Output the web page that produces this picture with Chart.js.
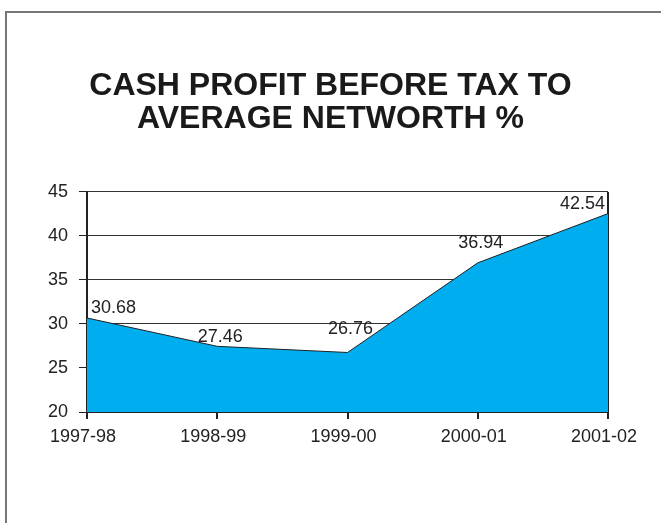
<!DOCTYPE html>
<html>
<head>
<meta charset="utf-8">
<script src="https://cdn.jsdelivr.net/npm/chart.js@4/dist/chart.umd.min.js"></script>
<style>
  body { margin: 0; background: #fff; }
  #frame { position: absolute; left: 5px; top: 11px; width: 700px; height: 560px;
           border-left: 2px solid #777; border-top: 2px solid #777; }
  #wrap { position: absolute; left: 0; top: 0; width: 661px; height: 523px; }
</style>
</head>
<body>
<div id="frame"></div>
<div id="wrap"><canvas id="chart"></canvas></div>
<script>
// --- datos ---
const years = ['1997-98', '1998-99', '1999-00', '2000-01', '2001-02'];
const values = [30.68, 27.46, 26.76, 36.94, 42.54];
const titleLines = ['CASH PROFIT BEFORE TAX TO', 'AVERAGE NETWORTH %'];

const FONT = 'Liberation Sans, Arial, sans-serif';
// cuanto sube cada etiqueta sobre su punto (px)
const labelLift = [1, 0, 14, 11, 1];

// etiquetas sobre cada punto, dentro del area
const valueLabels = {
    id: 'valueLabels',
    afterDatasetsDraw(chart) {
        const ctx = chart.ctx;
        const area = chart.chartArea;
        const meta = chart.getDatasetMeta(0);
        ctx.save();
        ctx.font = '18px ' + FONT;
        ctx.fillStyle = '#222';
        ctx.textBaseline = 'bottom';
        meta.data.forEach((pt, i) => {
            const txt = values[i].toFixed(2);
            const w = ctx.measureText(txt).width;
            let x = pt.x - w / 2 + 3;
            x = Math.max(area.left + 4, Math.min(x, area.right - w - 3));
            ctx.fillText(txt, x, pt.y - labelLift[i]);
        });
        ctx.restore();
    }
};

new Chart(document.getElementById('chart'), {
    type: 'line',
    data: {
        labels: years,
        datasets: [{
            data: values,
            borderColor: '#222',
            borderWidth: 1,
            backgroundColor: '#00AEEF',
            fill: 'origin',
            tension: 0,
            pointRadius: 0
        }]
    },
    options: {
        responsive: true,
        maintainAspectRatio: false,
        animation: false,
        layout: { padding: { left: 0, right: 0, top: 0, bottom: 71 } },
        plugins: {
            legend: { display: false },
            tooltip: { enabled: false },
            title: {
                display: true,
                text: titleLines,
                color: '#1a1a1a',
                font: { family: FONT, size: 32, weight: 'bold', lineHeight: 1.03 },
                padding: { top: 70, bottom: 56 }
            }
        },
        scales: {
            x: {
                offset: false,
                border: { display: true, color: '#222', width: 2 },
                grid: {
                    drawOnChartArea: true,
                    color: c => c.index === years.length - 1 ? '#222' : 'rgba(0,0,0,0)',
                    lineWidth: 2,
                    tickColor: '#222',
                    tickLength: 7
                },
                ticks: { color: '#222', font: { family: FONT, size: 18 }, padding: 7, maxRotation: 0, labelOffset: -4 },
                afterFit: s => { s.height = 40; }
            },
            y: {
                min: 20,
                max: 45,
                border: { display: true, color: '#222', width: 2 },
                grid: { color: '#333', tickColor: '#222', tickLength: 8, lineWidth: 1 },
                ticks: { stepSize: 5, color: '#222', font: { family: FONT, size: 18 }, padding: 11 },
                afterFit: s => { s.width = 87; }
            },
            // eje vacio a la derecha, solo reserva margen
            y2: {
                position: 'right',
                min: 20,
                max: 45,
                border: { display: false },
                grid: { display: false },
                ticks: { display: false },
                afterFit: s => { s.width = 53; }
            }
        }
    },
    plugins: [valueLabels]
});
</script>
</body>
</html>
